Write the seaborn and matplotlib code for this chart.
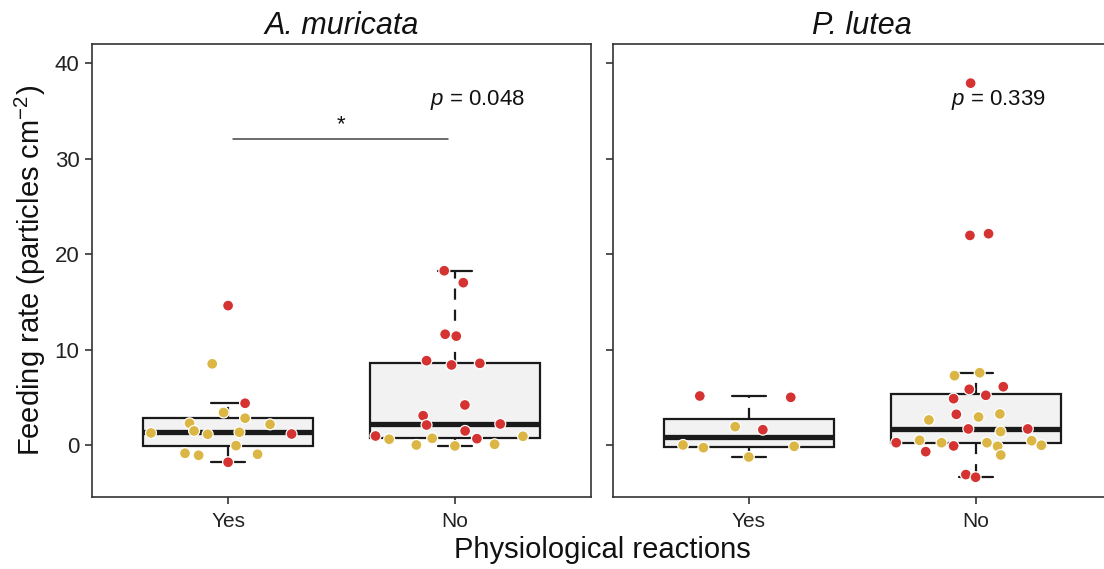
import matplotlib
matplotlib.use("Agg")
import matplotlib.pyplot as plt
import numpy as np
import pandas as pd
import seaborn as sns

# ---------------- data ----------------
species = ["A. muricata", "P. lutea"]
reactions = ["Yes", "No"]
p_values = ["0.048", "0.339"]
sig_label = "*"

# A. muricata, reaction = Yes
am_yes_rate = [14.6, 8.5, 4.37, 3.4, 2.8, 2.27, 2.16, 1.26, 1.47, 1.12, 1.33, 1.15,
               -0.07, -0.87, -1.08, -0.97, -1.81]
am_yes_group = ["R", "Y", "R", "Y", "Y", "Y", "Y", "Y", "Y", "Y", "Y", "R",
                "Y", "Y", "Y", "Y", "R"]
am_yes_jitter = [0.0, -0.07, 0.075, -0.02, 0.075, -0.17, 0.185, -0.34, -0.15, -0.09,
                 0.05, 0.28, 0.035, -0.19, -0.13, 0.13, 0.0]

# A. muricata, reaction = No
am_no_rate = [18.25, 17.0, 11.6, 11.4, 8.83, 8.38, 8.55, 4.19, 3.07, 2.09, 2.2, 1.47,
              0.94, 0.6, 0.0, 0.7, 0.66, -0.1, 0.07, 0.91]
am_no_group = ["R", "R", "R", "R", "R", "R", "R", "R", "R", "R", "R", "R",
               "R", "Y", "Y", "Y", "R", "Y", "Y", "Y"]
am_no_jitter = [-0.047, 0.037, -0.043, 0.006, -0.125, -0.015, 0.11, 0.044, -0.14, -0.125,
                0.2, 0.045, -0.35, -0.29, -0.17, -0.1, 0.097, 0.0, 0.175, 0.3]

# P. lutea, reaction = Yes
pl_yes_rate = [5.13, 4.99, 1.92, 1.6, 0.0, -0.28, -0.14, -1.26]
pl_yes_group = ["R", "R", "Y", "R", "Y", "Y", "Y", "Y"]
pl_yes_jitter = [-0.216, 0.185, -0.06, 0.062, -0.29, -0.2, 0.2, 0.0]

# P. lutea, reaction = No
pl_no_rate = [37.9, 21.95, 22.13, 7.26, 7.57, 5.83, 6.1, 4.85, 5.2, 2.62, 3.21, 2.93,
              3.25, 1.68, 1.4, 1.68, 0.24, 0.49, 0.24, -0.1, 0.24, -0.14, 0.45, -0.03,
              -0.7, -1.05, -3.1, -3.38]
pl_no_group = ["R", "R", "R", "Y", "Y", "R", "R", "R", "R", "Y", "R", "Y",
               "Y", "R", "Y", "R", "R", "Y", "Y", "R", "Y", "Y", "Y", "Y",
               "R", "Y", "R", "R"]
pl_no_jitter = [-0.022, -0.025, 0.057, -0.093, 0.018, -0.028, 0.122, -0.097, 0.045, -0.206,
                -0.085, 0.013, 0.107, -0.032, 0.11, 0.23, -0.35, -0.247, -0.15, -0.097,
                0.05, 0.097, 0.247, 0.29, -0.22, 0.111, -0.043, 0.0]

group_colors = {"R": "#D53232", "Y": "#DBB645"}

frames = []
for sp, react, rate, grp, jit in [
    (species[0], "Yes", am_yes_rate, am_yes_group, am_yes_jitter),
    (species[0], "No", am_no_rate, am_no_group, am_no_jitter),
    (species[1], "Yes", pl_yes_rate, pl_yes_group, pl_yes_jitter),
    (species[1], "No", pl_no_rate, pl_no_group, pl_no_jitter),
]:
    frames.append(pd.DataFrame({"species": sp, "reaction": react, "rate": rate,
                                "group": grp, "jitter": jit}))
df = pd.concat(frames, ignore_index=True)
df["xpos"] = df["reaction"].map({r: i for i, r in enumerate(reactions)}) + df["jitter"]

# ---------------- style ----------------
sns.set_style("ticks")
plt.rcParams["font.family"] = ["Liberation Sans", "DejaVu Sans"]
plt.rcParams["mathtext.fontset"] = "custom"
plt.rcParams["mathtext.rm"] = "Liberation Sans"
plt.rcParams["mathtext.it"] = "Liberation Sans:italic"
plt.rcParams["axes.unicode_minus"] = True

W, H = 1104, 569
fig = plt.figure(figsize=(W / 100, H / 100), dpi=100)
ax_top, ax_bot = 44, 497
axw = 499
ax1 = fig.add_axes([92 / W, 1 - ax_bot / H, axw / W, (ax_bot - ax_top) / H])
ax2 = fig.add_axes([612.7 / W, 1 - ax_bot / H, axw / W, (ax_bot - ax_top) / H], sharey=ax1)

edge = "#1A1A1A"
for ax, sp, pv in zip([ax1, ax2], species, p_values):
    sub = df[df["species"] == sp]
    sns.boxplot(data=sub, x="reaction", y="rate", order=reactions, ax=ax,
                width=0.75, color="#F2F2F2", linecolor=edge, linewidth=1.6,
                showfliers=False, whis=1.5, saturation=1,
                whiskerprops={"linestyle": (0, (5, 4.5))},
                medianprops={"linewidth": 3.8},
                capprops={"linestyle": "-"},
                capwidths=0.15)
    sns.scatterplot(data=sub, x="xpos", y="rate", hue="group", palette=group_colors,
                    s=62, edgecolor="white", linewidth=0.9, ax=ax, legend=False,
                    zorder=4)
    ax.set_xlim(-0.6, 1.6)
    ax.set_ylim(-5.45, 42.0)
    ax.set_xlabel("")
    ax.set_ylabel("")
    ax.set_title(sp, style="italic", fontsize=22, pad=7, color="#111111")
    ax.set_xticks([0, 1])
    ax.set_xticklabels(reactions)
    for s in ax.spines.values():
        s.set_visible(True)
        s.set_color("#333333")
        s.set_linewidth(1.2)
    ax.tick_params(axis="both", length=5, width=1.2, color="#333333")
    ax.tick_params(axis="x", labelsize=15, labelcolor="#222222", pad=6)
    ax.tick_params(axis="y", labelsize=16, labelcolor="#222222", pad=4)
    ax.text(1.1, 36.1, f"$p$ = {pv}", fontsize=16, ha="center", va="center",
            color="#111111")

ax1.set_yticks([0, 10, 20, 30, 40])
plt.setp(ax2.get_yticklabels(), visible=False)

# significance bracket
ax1.plot([0.02, 0.97], [32.0, 32.0], color="#444444", lw=1.1)
ax1.text(0.5, 33.6, sig_label, fontsize=16, ha="center", va="center", color="#111111")

fig.text(30 / W, 1 - 270 / H, "Feeding rate (particles cm$^{-2}$)", rotation=90,
         fontsize=21, ha="center", va="center", color="#111111")
fig.text(602 / W, 1 - 550 / H, "Physiological reactions", fontsize=21,
         ha="center", va="center", color="#111111")

fig.savefig("out.png", dpi=100)
